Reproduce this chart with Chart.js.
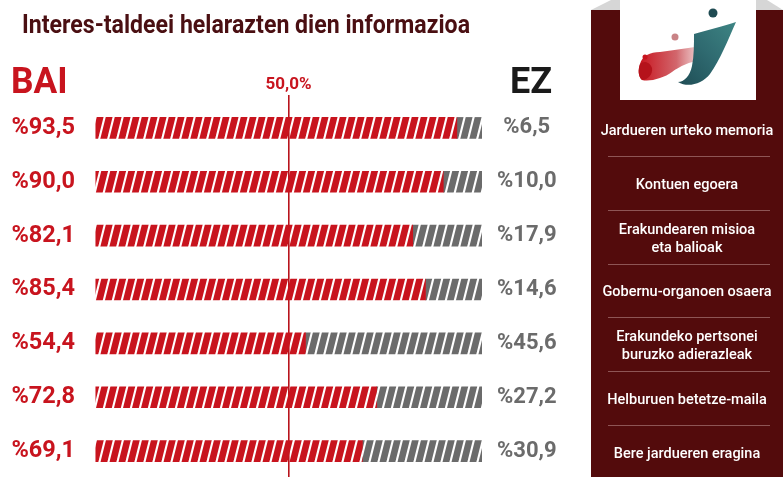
<!DOCTYPE html>
<html>
<head>
<meta charset="utf-8">
<script src="https://cdn.jsdelivr.net/npm/chart.js@4/dist/chart.umd.min.js"></script>
<style>
  html, body { margin:0; padding:0; width:783px; height:477px; overflow:hidden; background:#fff; font-family: Roboto, "Noto Sans", sans-serif; }
  #title { position:absolute; left:22px; top:12px; font:700 25px/25px Roboto, sans-serif; color:#4a0f12; white-space:nowrap; transform-origin:0 0; }
  .big { position:absolute; top:63px; font:700 36px/36px Roboto, sans-serif; white-space:nowrap; }
  #bai { left:11px; color:#c8141e; transform-origin:0 0; transform:scaleX(0.98); }
  #ez { left:510px; color:#1a1a1a; }
  #chartBox { position:absolute; left:0; top:0; width:591px; height:478px; }
  #panel { position:absolute; left:591px; top:10px; width:192px; height:467px; background:#530b0c; }
  #fold { position:absolute; left:591px; top:0; width:192px; height:10px; }
  #logo { position:absolute; left:620px; top:0; width:136px; height:100px; background:#fff; }
  .item { position:absolute; left:591px; width:192px; display:flex; align-items:center; justify-content:center; text-align:center; color:#fff; font:500 14.5px/18px Roboto, sans-serif; white-space:pre-line; }
  .sep { position:absolute; left:608px; width:162px; height:1px; background:#8e5555; }
</style>
</head>
<body>
<div id="chartBox"><canvas id="c"></canvas></div>
<div id="title"></div>
<div id="bai" class="big"></div>
<div id="ez" class="big"></div>
<div id="panel"></div>
<svg id="fold" viewBox="0 0 192 10">
  <polygon points="0,10 29,10 29,0 20,0" fill="#d6d6d6"/>
  <polygon points="165,10 192,10 176,0 165,0" fill="#d6d6d6"/>
</svg>
<div id="logo">
<svg width="136" height="100" viewBox="0 0 136 100">
  <defs>
    <linearGradient id="gr" x1="0" y1="0" x2="1" y2="0">
      <stop offset="0" stop-color="#c8141e"/>
      <stop offset="0.6" stop-color="#d2676d"/>
      <stop offset="1" stop-color="#e8b9bb" stop-opacity="0.6"/>
    </linearGradient>
    <linearGradient id="gt" x1="0" y1="1" x2="1" y2="0">
      <stop offset="0" stop-color="#1f4d55"/>
      <stop offset="0.5" stop-color="#2f6a70"/>
      <stop offset="1" stop-color="#3e8584"/>
    </linearGradient>
  </defs>
  <path d="M20,64 C22,56 30,52 40,52 C55,50 68,48 82,46 L80,60 C70,62 60,66 52,72 C44,78 30,82 22,80 C18,76 18,70 20,64 Z" fill="url(#gr)"/>
  <path d="M20,64 C24,60 30,62 32,68 C33,74 28,80 22,80 C18,76 18,70 20,64 Z" fill="#b5121b"/>
  <path d="M74,34 C88,30 104,26 116,22 C108,40 100,60 90,74 C82,84 68,88 58,82 C64,82 70,76 72,66 C74,56 74,44 74,34 Z" fill="url(#gt)"/>
  <circle cx="93" cy="13" r="4.5" fill="#1f4b52"/>
  <circle cx="55" cy="37" r="3.5" fill="#c98386"/>
  <circle cx="25" cy="57" r="2.5" fill="#c8141e"/>
</svg>
</div>
<div id="items"></div>
<script>
// ---- data ----
const chartTitle = 'Interes-taldeei helarazten dien informazioa';
const yesLabel = 'BAI';
const noLabel = 'EZ';
const categories = [
  'Jardueren urteko memoria',
  'Kontuen egoera',
  'Erakundearen misioa\neta balioak',
  'Gobernu-organoen osaera',
  'Erakundeko pertsonei\nburuzko adierazleak',
  'Helburuen betetze-maila',
  'Bere jardueren eragina'
];
const baiValues = [93.5, 90.0, 82.1, 85.4, 54.4, 72.8, 69.1];
const ezValues  = [6.5, 10.0, 17.9, 14.6, 45.6, 27.2, 30.9];
const midTick = 50;
const midTickLabel = '50,0%';

// ---- styles ----
const RED = '#c8141e';
const GREY = '#6b6b6b';
const fmt = v => '%' + v.toFixed(1).replace('.', ',');

document.getElementById('title').textContent = chartTitle;
document.getElementById('bai').textContent = yesLabel;
document.getElementById('ez').textContent = noLabel;

function stripePattern(color) {
  const W = 9, H = 72, slant = 18, stripe = 6.8;
  const cv = document.createElement('canvas');
  cv.width = W; cv.height = H;
  const g = cv.getContext('2d');
  g.fillStyle = color;
  for (let k = -4; k <= 2; k++) {
    const x0 = k * W;
    g.beginPath();
    g.moveTo(x0, H);
    g.lineTo(x0 + stripe, H);
    g.lineTo(x0 + stripe + slant, 0);
    g.lineTo(x0 + slant, 0);
    g.closePath();
    g.fill();
  }
  return g.createPattern(cv, 'repeat');
}

const CH_TOP = 101, CH_LEFT = 95, CH_RIGHT_W = 109;

const chart = new Chart(document.getElementById('c'), {
  type: 'bar',
  data: {
    labels: categories,
    datasets: [
      { label: yesLabel, data: baiValues, backgroundColor: stripePattern(RED), barThickness: 21, yAxisID: 'y' },
      { label: noLabel, data: ezValues, backgroundColor: stripePattern(GREY), barThickness: 21, yAxisID: 'y' }
    ]
  },
  options: {
    indexAxis: 'y',
    responsive: true,
    maintainAspectRatio: false,
    animation: false,
    layout: { padding: 0 },
    plugins: { legend: { display: false }, tooltip: { enabled: false }, title: { display: false } },
    scales: {
      x: {
        position: 'top', stacked: true, min: 0, max: 100, z: 1,
        border: { display: false },
        grid: {
          color: c => (c.tick && c.tick.value === midTick) ? '#b8141c' : 'rgba(0,0,0,0)',
          lineWidth: 1.6, tickLength: 6, drawTicks: true
        },
        ticks: {
          stepSize: 50, padding: 0, color: RED,
          font: { family: 'Roboto', weight: 'bold', size: 17 },
          callback: v => v === midTick ? midTickLabel : ''
        },
        afterFit: s => { s.height = CH_TOP; s.paddingLeft = 0; s.paddingRight = 0; }
      },
      y: {
        stacked: true, position: 'left',
        border: { display: false }, grid: { display: false, drawTicks: false },
        ticks: {
          color: RED, padding: 20,
          font: { family: 'Roboto', weight: 'bold', size: 23.5 },
          callback: (v, i) => fmt(baiValues[i])
        },
        afterFit: s => { s.width = CH_LEFT; s.paddingTop = 0; s.paddingBottom = 0; }
      },
      y2: {
        type: 'category', position: 'right', labels: categories,
        border: { display: false }, grid: { display: false, drawTicks: false },
        ticks: {
          color: GREY, padding: 15, crossAlign: 'center',
          font: { family: 'Roboto', weight: 'bold', size: 22 },
          callback: (v, i) => fmt(ezValues[i])
        },
        afterFit: s => { s.width = CH_RIGHT_W; s.paddingTop = 0; s.paddingBottom = 0; }
      }
    }
  }
});

// side panel items aligned with the chart rows
function buildPanel() {
  const area = chart.chartArea;
  const band = (area.bottom - area.top) / categories.length;
  const box = document.getElementById('items');
  box.innerHTML = '';
  categories.forEach((name, i) => {
    const d = document.createElement('div');
    d.className = 'item';
    d.style.top = (area.top + i * band + 3) + 'px';
    d.style.height = band + 'px';
    d.textContent = name;
    box.appendChild(d);
    if (i > 0) {
      const s = document.createElement('div');
      s.className = 'sep';
      s.style.top = Math.round(area.top + i * band + 1) + 'px';
      box.appendChild(s);
    }
  });
}
buildPanel();

function fitTitle() {
  const t = document.getElementById('title');
  t.style.transform = 'none';
  const w = t.getBoundingClientRect().width;
  t.style.transform = 'scaleX(' + (448 / w) + ')';
}
fitTitle();
if (document.fonts && document.fonts.ready) document.fonts.ready.then(() => { fitTitle(); chart.update(); buildPanel(); });
</script>
</body>
</html>
